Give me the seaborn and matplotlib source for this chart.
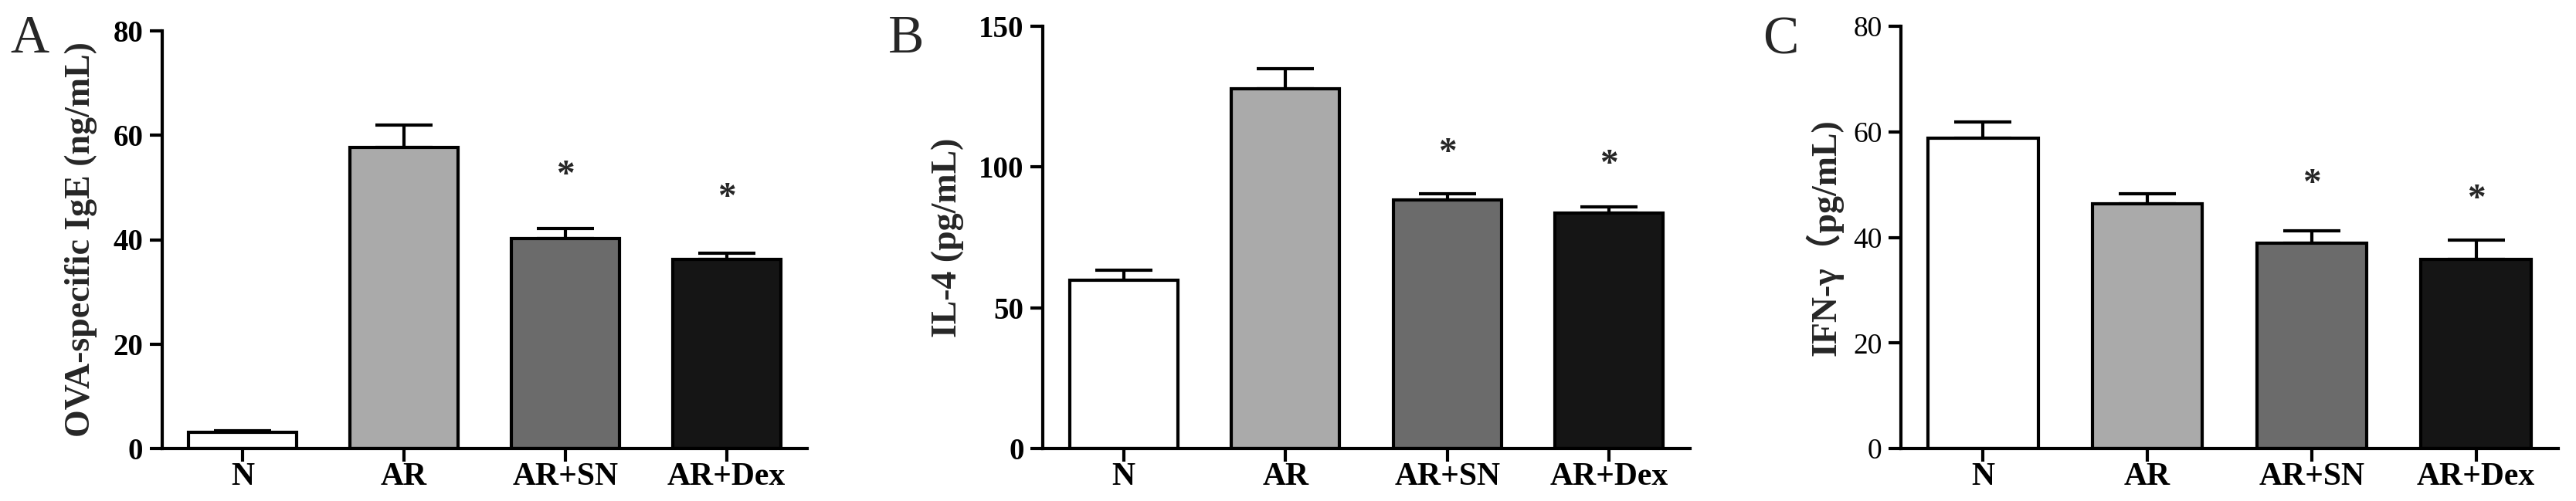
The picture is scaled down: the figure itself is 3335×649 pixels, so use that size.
import numpy as np
import pandas as pd
import matplotlib
matplotlib.use("Agg")
import matplotlib.pyplot as plt
import matplotlib.transforms as mtrans
import seaborn as sns

# ---------------- data ----------------
categories = ["N", "AR", "AR+SN", "AR+Dex"]
bar_colors = ["#ffffff", "#aaaaaa", "#6b6b6b", "#151515"]

ige_mean = [3.1, 57.7, 40.2, 36.3]
ige_sem = [0.3, 4.3, 2.0, 1.1]
ige_star = [np.nan, np.nan, 54.0, 49.7]
ige_ticks = [0, 20, 40, 60, 80]

il4_mean = [59.8, 127.8, 88.2, 83.7]
il4_sem = [3.6, 7.1, 2.2, 2.2]
il4_star = [np.nan, np.nan, 108.0, 104.0]
il4_ticks = [0, 50, 100, 150]

ifn_mean = [58.8, 46.3, 38.9, 35.9]
ifn_sem = [3.0, 1.9, 2.4, 3.6]
ifn_star = [np.nan, np.nan, 51.8, 48.8]
ifn_ticks = [0, 20, 40, 60, 80]

panel_letters = ["A", "B", "C"]
ylabels = ["OVA-specific IgE (ng/mL)", "IL-4 (pg/mL)", "IFN-γ（pg/mL)"]

# ---------------- style ----------------
sns.set_style("ticks")
plt.rcParams["font.family"] = ["Liberation Serif", "Noto Sans CJK SC", "DejaVu Sans"]
plt.rcParams["axes.edgecolor"] = "black"
plt.rcParams["xtick.color"] = "black"
plt.rcParams["ytick.color"] = "black"

W, H = 3335, 649
fig = plt.figure(figsize=(W / 100, H / 100), dpi=100)

# axes boxes in pixels: left, right, top, bottom
boxes = [(209.5, 1045, 40, 581), (1350, 2188, 34, 581), (2461, 3312, 34, 581)]
label_x = [-0.125, -0.147, -0.116]
letter_pos = [(13, 68), (1150, 68), (2282, 70)]
tick_bold = [True, True, False]
tick_size = [28, 28, 27]

panels = [
    (ige_mean, ige_sem, ige_star, ige_ticks),
    (il4_mean, il4_sem, il4_star, il4_ticks),
    (ifn_mean, ifn_sem, ifn_star, ifn_ticks),
]

for k, (means, sems, stars, ticks) in enumerate(panels):
    l, r, t, b = boxes[k]
    ax = fig.add_axes([l / W, (H - b) / H, (r - l) / W, (b - t) / H])
    df = pd.DataFrame({"group": categories, "value": means})
    sns.barplot(
        data=df, x="group", y="value", hue="group",
        order=categories, hue_order=categories,
        palette=dict(zip(categories, bar_colors)), saturation=1,
        errorbar=None, width=0.67, edgecolor="black", linewidth=3,
        legend=False, ax=ax, zorder=2,
    )
    xs = np.arange(len(categories))
    ax.errorbar(xs, means, yerr=[np.zeros(len(means)), sems], fmt="none",
                ecolor="black", elinewidth=3, capsize=26.6, capthick=3, zorder=1)
    star_tr = mtrans.offset_copy(ax.transData, fig=fig, x=0, y=-23, units="dots")
    for i, s in enumerate(stars):
        if not np.isnan(s):
            ax.text(i, s, "*", ha="center", va="baseline", fontsize=34,
                    fontweight="bold", transform=star_tr)

    ax.set_xlim(-0.5, 3.5)
    ax.set_ylim(0, ticks[-1])
    ax.set_yticks(ticks)
    sns.despine(ax=ax)
    for sp in ["left", "bottom"]:
        ax.spines[sp].set_linewidth(3)
        ax.spines[sp].set_color("black")
    ax.tick_params(axis="y", length=11.5, width=3, pad=6, labelsize=tick_size[k])
    ax.tick_params(axis="x", length=12, width=3, pad=1, labelsize=30)
    for lab in ax.get_xticklabels():
        lab.set_fontweight("bold")
    for lab in ax.get_yticklabels():
        lab.set_fontweight("bold" if tick_bold[k] else "normal")
    ax.set_xlabel("")
    ax.set_ylabel(ylabels[k], fontsize=33, fontweight="bold", va="center")
    ax.yaxis.set_label_coords(label_x[k], 0.5)

    lx, ly = letter_pos[k]
    fig.text(lx / W, 1 - ly / H, panel_letters[k], ha="left", va="baseline",
             fontsize=50)

fig.savefig("out.png", dpi=100)
